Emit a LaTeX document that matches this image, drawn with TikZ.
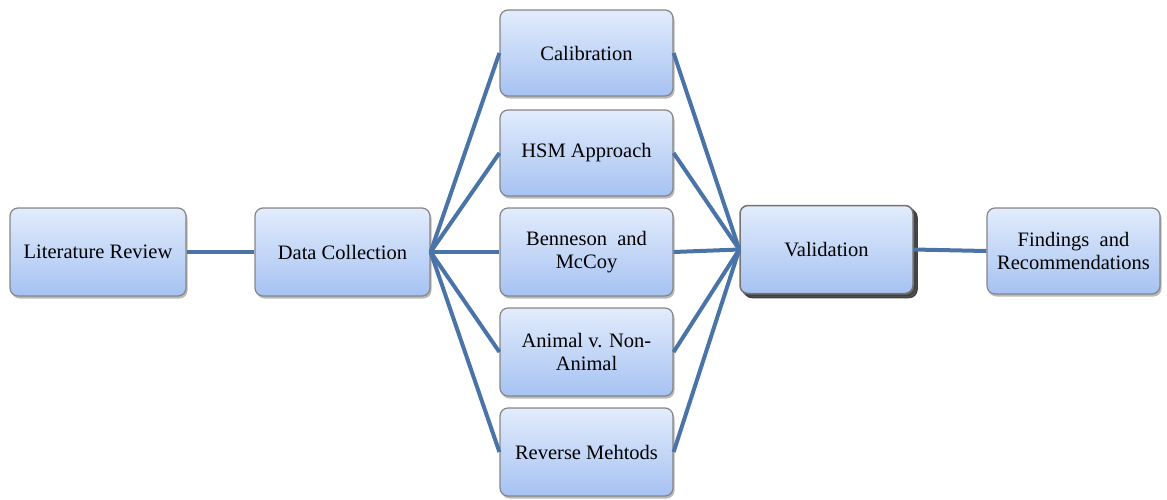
\documentclass[tikz,border=0pt]{standalone}
\usepackage{fontspec}
\setmainfont{Liberation Serif}
\usetikzlibrary{shadows}
\definecolor{linkc}{HTML}{4A74A8}
\definecolor{boxtop}{HTML}{E2ECFC}
\definecolor{boxbot}{HTML}{A6C2F2}
\definecolor{boxedge}{HTML}{858585}
\begin{document}
\begin{tikzpicture}[x=1pt,y=-1pt,
  box/.style={draw=boxedge, line width=1.2pt, rounded corners=8pt,
    top color=boxtop, bottom color=boxbot, minimum width=#1, align=center,
    font=\fontsize{20.5}{23}\selectfont, inner sep=0pt,
    drop shadow={shadow xshift=1.5pt, shadow yshift=-2.5pt, fill=black!45, opacity=0.6}},
  box/.default=174pt,
  link/.style={draw=linkc, line width=4pt}]
\useasboundingbox (0,0) rectangle (1167,499);
\node[box=176pt, minimum height=88pt] (lit) at (98,252) {Literature Review};
\node[box=175pt, minimum height=88pt] (data) at (342.5,252) {Data Collection};
\node[box=173pt, minimum height=86pt] (cal) at (586.5,53) {Calibration};
\node[box=173pt, minimum height=86pt] (hsm) at (586.5,153) {HSM Approach};
\node[box=173pt, minimum height=88pt] (ben) at (586.5,252) {Benneson\enspace and\\McCoy};
\node[box=173pt, minimum height=88pt] (ani) at (586.5,352) {Animal v. Non-\\Animal};
\node[box=173pt, minimum height=88pt] (rev) at (586.5,452) {Reverse Mehtods};
\node[box=173pt, minimum height=88pt, line width=1.5pt, draw=black!55,
  drop shadow={}, double copy shadow={shadow xshift=2pt, shadow yshift=-2pt,
    fill=black!65, draw=black!75, opacity=1}] (val) at (826.5,249.5) {Validation};
\node[box=173pt, minimum height=86pt] (fin) at (1073.5,251) {Findings\enspace and\\Recommendations};
\draw[link] (lit.east) -- (data.west);
\foreach \n in {cal,hsm,ben,ani,rev}{
  \draw[link] (data.east) -- (\n.west);
  \draw[link] (\n.east) -- (val.west);
}
\draw[link] (val.east) -- (fin.west);
\end{tikzpicture}
\end{document}
